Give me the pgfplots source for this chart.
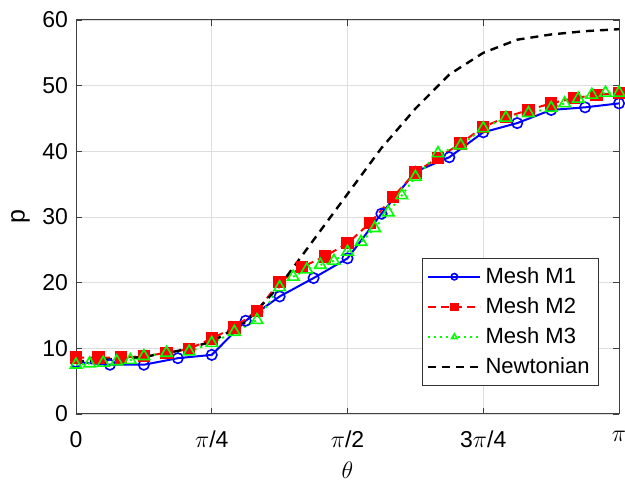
\documentclass[border=0pt]{standalone}
\usepackage{pgfplots}
\pgfplotsset{compat=1.18}
\usepackage{fontspec}
\setmainfont{Liberation Sans}
\begin{document}
\begin{tikzpicture}
\useasboundingbox (-38pt,-35.5pt) rectangle (274.5pt,207pt);
\begin{axis}[
  at={(0,0)}, anchor=south west,
  scale only axis, width=271.5pt, height=197pt,
  xmin=0, xmax=3.141593, ymin=0, ymax=60,
  xtick={0,0.785398,1.570796,2.356194,3.141593},
  xticklabels={0,$\pi$/4,$\pi$/2,3$\pi$/4,$\pi$},
  ytick={0,10,...,60},
  /pgf/number format/assume math mode=true,
  tick label style={font=\fontsize{11.5}{13}\selectfont},
  xticklabel style={yshift=-5pt},
  yticklabel style={xshift=-0.5pt},
  grid=major, major grid style={black!13, line width=0.4pt},
  tick align=inside, major tick length=3pt,
  tick style={black!75, line width=0.4pt},
  axis line style={black!75, line width=0.5pt},
  xlabel={$\theta$}, ylabel={p},
  label style={font=\fontsize{12.5}{14}\selectfont},
  xlabel style={at={(axis description cs:0.5,-0.142)}, anchor=center},
  ylabel style={at={(axis description cs:-0.102,0.5)}, anchor=center},
  legend style={at={(rel axis cs:0.963,0.071)}, anchor=south east,
    draw=black!80, line width=0.4pt, fill=white,
    font=\fontsize{11}{13}\selectfont, row sep=1.6pt,
    inner xsep=2.5pt, inner ysep=2.5pt},
  legend cell align=left,
  legend image code/.code={\draw[mark repeat=2,mark phase=2,#1,mark size=1.6pt] plot coordinates {(0pt,0pt)(13pt,0pt)(26pt,0pt)};},
]
\addplot[blue, line width=1pt, mark=o, mark size=2.6pt, mark options={solid, line width=0.8pt}] coordinates {
(0,7.9) (0.19635,7.5) (0.3927,7.5) (0.58905,8.5) (0.7854,9.0) (0.98175,14.2)
(1.1781,17.9) (1.37445,20.7) (1.5708,23.7) (1.76715,30.5) (1.9635,36.9)
(2.15985,39.1) (2.3562,42.9) (2.55255,44.3) (2.7489,46.3) (2.94525,46.7) (3.14159,47.3)};
\addlegendentry{Mesh M1}
\addplot[red, line width=1pt, dash pattern=on 4pt off 2.5pt, mark=square*, mark size=2.6pt, mark options={solid}] coordinates {
(0,8.6) (0.1309,8.6) (0.2618,8.6) (0.3927,8.8) (0.5236,9.3) (0.6545,9.9)
(0.7854,11.5) (0.9163,13.2) (1.0472,15.7) (1.1781,20.1) (1.3090,22.4) (1.4399,24.0)
(1.5708,26.0) (1.7017,29.1) (1.8326,33.0) (1.9635,36.8) (2.0944,39.0) (2.2253,41.2)
(2.3562,43.7) (2.4871,45.2) (2.6180,46.3) (2.7489,47.3) (2.8798,48.1) (3.0107,48.6) (3.14159,48.9)};
\addlegendentry{Mesh M2}
\addplot[green, line width=1pt, dotted, mark=triangle, mark size=3.3pt, mark options={solid, line width=0.8pt}] coordinates {
(0,7.5) (0.0785,7.7) (0.1571,7.8) (0.2356,8.0) (0.3142,8.2) (0.3927,8.8)
(0.5236,9.3) (0.6545,9.5) (0.7854,10.8) (0.9163,12.5) (1.0472,14.3) (1.1781,19.3)
(1.2566,20.9) (1.3352,22.0) (1.4137,22.7) (1.4923,23.3) (1.5708,24.7) (1.6493,26.2)
(1.7279,28.3) (1.8064,30.7) (1.8850,33.3) (1.9635,36.1) (2.0944,39.7) (2.2253,40.9)
(2.3562,43.5) (2.4871,45.1) (2.6180,45.8) (2.7489,46.6) (2.8274,47.3) (2.9060,48.0)
(2.9845,48.6) (3.0631,48.9) (3.14159,48.9)};
\addlegendentry{Mesh M3}
\addplot[black, line width=1.2pt, dash pattern=on 4pt off 3pt] coordinates {
(0,8.0) (0.19635,8.3) (0.3927,8.7) (0.58905,9.6) (0.7854,11.0) (0.98175,14.0)
(1.1781,19.5) (1.37445,26.5) (1.5708,33.5) (1.76715,40.5) (1.9635,46.5)
(2.15985,51.7) (2.3562,55.0) (2.55255,57.0) (2.7489,57.8) (2.94525,58.3) (3.14159,58.6)};
\addlegendentry{Newtonian}
\end{axis}
\end{tikzpicture}
\end{document}
